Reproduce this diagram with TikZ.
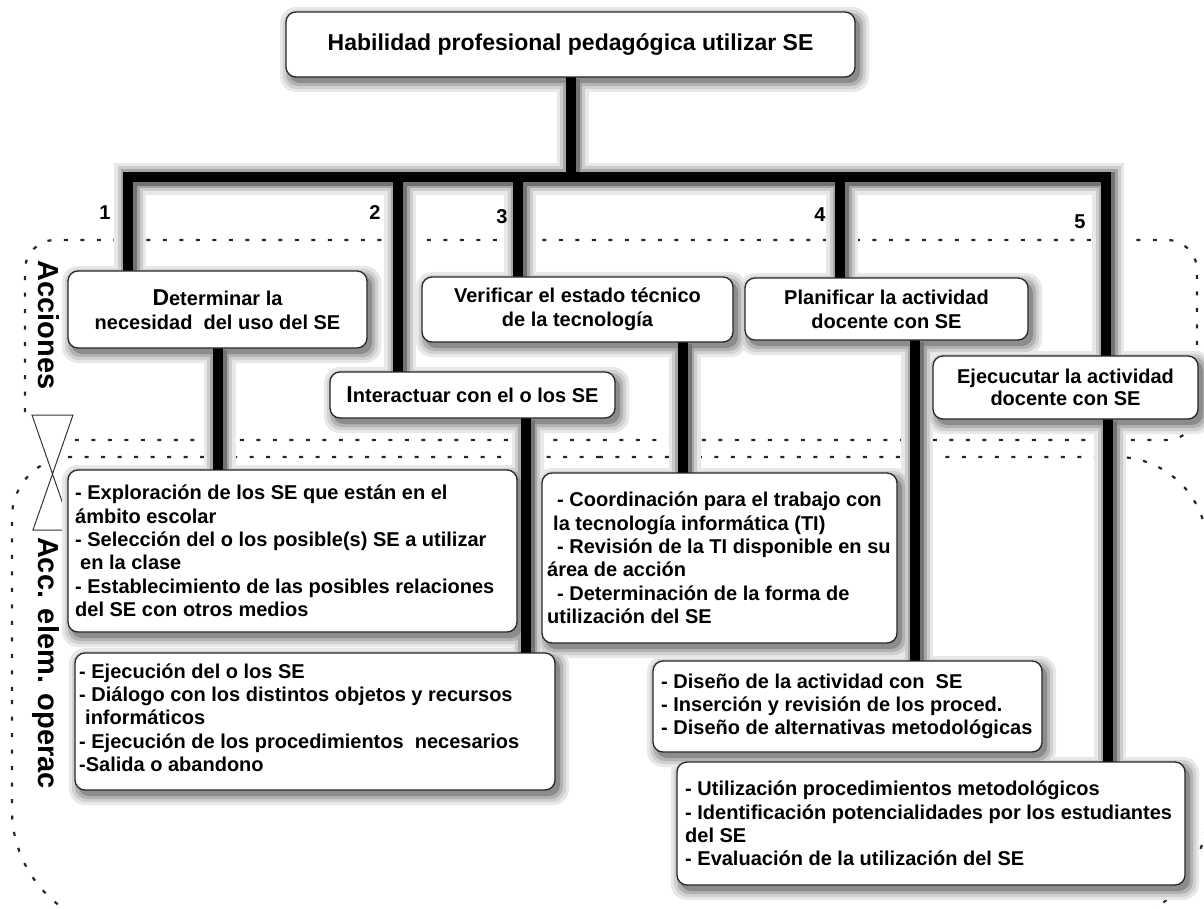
\documentclass[tikz,border=0pt]{standalone}
\usepackage{fontspec}
\setmainfont{Liberation Sans}
\pgfdeclarelayer{bg}
\pgfdeclarelayer{haloA}
\pgfdeclarelayer{haloB}
\pgfdeclarelayer{haloC}
\pgfdeclarelayer{haloD}
\pgfdeclarelayer{links}
\pgfsetlayers{bg,haloA,haloB,haloC,haloD,links,main}

% a thick tree connector, with its grey halo spread over the halo layers
\newcommand\treelink[1]{%
  \begin{pgfonlayer}{haloA}\draw[halo, line width=32pt, black!9] #1;\end{pgfonlayer}
  \begin{pgfonlayer}{haloB}\draw[halo, line width=25pt, black!20] #1;\end{pgfonlayer}
  \begin{pgfonlayer}{haloC}\draw[halo, line width=19pt, black!35] #1;\end{pgfonlayer}
  \begin{pgfonlayer}{haloD}\draw[halo, line width=14pt, black!55] #1;\end{pgfonlayer}
  \begin{pgfonlayer}{links}\draw[link] #1;\end{pgfonlayer}}

% soft drop shadow of a box, also spread over the halo layers
\newcommand\boxshadow[1]{%
  \begin{pgfonlayer}{haloA}\fill[black!9, rounded corners=16pt] ([shift={(-6,-5)}]#1.north west) rectangle ([shift={(14,15)}]#1.south east);\end{pgfonlayer}
  \begin{pgfonlayer}{haloB}\fill[black!18, rounded corners=14pt] ([shift={(-3,-2)}]#1.north west) rectangle ([shift={(11,12)}]#1.south east);\end{pgfonlayer}
  \begin{pgfonlayer}{haloC}\fill[black!30, rounded corners=12pt] ([shift={(0,1)}]#1.north west) rectangle ([shift={(8,9)}]#1.south east);\end{pgfonlayer}
  \begin{pgfonlayer}{haloD}\fill[black!45, rounded corners=11pt] ([shift={(3,4)}]#1.north west) rectangle ([shift={(5,6)}]#1.south east);\end{pgfonlayer}}

\begin{document}
\begin{tikzpicture}[x=1pt,y=-1pt,
  font=\bfseries\fontsize{20}{23.3}\selectfont,
  box/.style={draw=black!85, line width=1.3pt, rounded corners=10pt, fill=white,
    inner ysep=0pt, outer sep=0pt},
  cbox/.style={box, align=center, inner xsep=4pt},
  lbox/.style={box, anchor=north west},
  optext/.style={align=left, inner sep=0pt, anchor=west},
  halo/.style={line join=miter, transform canvas={xshift=2pt,yshift=-2pt}},
  link/.style={line width=10pt, line join=miter, black},
  dotline/.style={line width=2.2pt, dash pattern=on 4pt off 12.5pt, black!85},
  numlabel/.style={font=\bfseries\fontsize{20}{20}\selectfont},
  sidelabel/.style={rotate=-90, font=\bfseries\fontsize{29}{30}\selectfont}
]
\useasboundingbox (0,0) rectangle (1204,909);
\begin{pgfonlayer}{bg}
  \fill[white] (0,0) rectangle (1204,909);
  % region of the actions
  \draw[dotline, rounded corners=30pt] (25,412) -- (25,240) -- (1197,240) -- (1197,440) -- (62,440);
  % region of the elementary operations
  \draw[dotline, rounded corners=60pt] (600,457) -- (12,457) -- (12,700);
  \draw[dotline, rounded corners=120pt] (12,700) -- (12,930) -- (1207,930) -- (1207,700);
  \draw[dotline, rounded corners=90pt] (1207,700) -- (1207,457) -- (600,457);
  % hourglass between both regions
  \draw[line width=1pt, black!80, fill=white] (32,415) -- (73,415) -- (33,530) -- (72,530) -- cycle;
\end{pgfonlayer}

% main skill
\node[cbox, minimum width=569pt, minimum height=65pt, font=\bfseries\fontsize{23}{26}\selectfont]
  (top) at (570.5,44.5) {Habilidad profesional pedagógica utilizar SE};

% actions
\node[cbox, minimum width=299pt, minimum height=77pt, font=\bfseries\fontsize{20}{24}\selectfont]
  (b1) at (217.5,309.5) {{\fontsize{23}{24}\selectfont D}eterminar la\\necesidad\ \ del uso del SE};
\node[cbox, minimum width=285pt, minimum height=46pt]
  (b2) at (472.5,395) {{\fontsize{23}{24}\selectfont I}nteractuar con el o los SE};
\node[cbox, minimum width=311pt, minimum height=65pt, font=\bfseries\fontsize{20}{24}\selectfont]
  (b3) at (577.5,309.5) {Verificar el estado técnico\\de la tecnología};
\node[cbox, minimum width=283pt, minimum height=62pt, font=\bfseries\fontsize{20}{24}\selectfont]
  (b4) at (886.5,309) {Planificar la actividad\\docente con SE};
\node[cbox, minimum width=265pt, minimum height=63pt, font=\bfseries\fontsize{20}{22.5}\selectfont]
  (b5) at (1065.5,387.5) {Ejecucutar la actividad\\docente con SE};

% elementary operations
\node[lbox, minimum width=449pt, minimum height=162pt] (o1) at (68,470) {};
\node[optext] (o1t) at ([xshift=7pt]o1.west)
  {- Exploración de los SE que están en el\\ámbito escolar\\- Selección del o los posible(s) SE a utilizar\\\hspace*{5pt}en la clase\\- Establecimiento de las posibles relaciones\\del SE con otros medios};
\node[lbox, minimum width=480pt, minimum height=137pt] (o2) at (75,653) {};
\node[optext] (o2t) at ([shift={(4,-4)}]o2.west)
  {- Ejecución del o los SE\\- Diálogo con los distintos objetos y recursos\\\hspace*{6pt}informáticos\\- Ejecución de los procedimientos\ \ necesarios\\-Salida o abandono};
\node[lbox, minimum width=355pt, minimum height=170pt] (o3) at (542,473) {};
\node[optext] (o3t) at ([xshift=5pt]o3.west)
  {\hspace*{10pt}- Coordinación para el trabajo con\\\hspace*{6pt}la tecnología informática (TI)\\\hspace*{10pt}- Revisión de la TI disponible en su\\área de acción\\\hspace*{10pt}- Determinación de la forma de\\utilización del SE};
\node[lbox, minimum width=389pt, minimum height=91pt] (o4) at (653,661) {};
\node[optext] (o4t) at ([xshift=8pt]o4.west)
  {- Diseño de la actividad con\ \ SE\\- Inserción y revisión de los proced.\\- Diseño de alternativas metodológicas};
\node[lbox, minimum width=508pt, minimum height=123pt] (o5) at (677,762) {};
\node[optext] (o5t) at ([xshift=8pt]o5.west)
  {- Utilización procedimientos metodológicos\\- Identificación potencialidades por los estudiantes\\del SE\\- Evaluación de la utilización del SE};

\foreach \n in {top,b1,b2,b3,b4,b5,o1,o2,o3,o4,o5}{\boxshadow{\n}}

% side labels
\node[sidelabel] (lacc) at (49,325) {Acciones};
\node[sidelabel] (lops) at (46,663) {Acc. elem. operac};

% branch numbers
\node[numlabel] (n1) at (105,213) {1};
\node[numlabel] (n2) at (375,213) {2};
\node[numlabel] (n3) at (502,217) {3};
\node[numlabel] (n4) at (820,215) {4};
\node[numlabel] (n5) at (1080,222) {5};

% tree connectors
\coordinate (j1) at (128,177);
\coordinate (j2) at (398,177);
\coordinate (j3) at (518,177);
\coordinate (j4) at (840,177);
\coordinate (j5) at (1106,177);
\treelink{(top.south) -- (top.south |- j1)}
\treelink{(j1 |- b1.north) -- (j1) -- (j5) -- (j5 |- b5.north)}
\treelink{(j2) -- (j2 |- b2.north)}
\treelink{(j3) -- (j3 |- b3.north)}
\treelink{(j4) -- (j4 |- b4.north)}
\treelink{(b1.south) -- (b1.south |- o1.north)}
\treelink{([xshift=53pt]b2.south) -- ([xshift=53pt]b2.south |- o2.north)}
\treelink{([xshift=105pt]b3.south) -- ([xshift=105pt]b3.south |- o3.north)}
\treelink{([xshift=28.5pt]b4.south) -- ([xshift=28.5pt]b4.south |- o4.north)}
\treelink{([xshift=42.5pt]b5.south) -- ([xshift=42.5pt]b5.south |- o5.north)}
\end{tikzpicture}
\end{document}
